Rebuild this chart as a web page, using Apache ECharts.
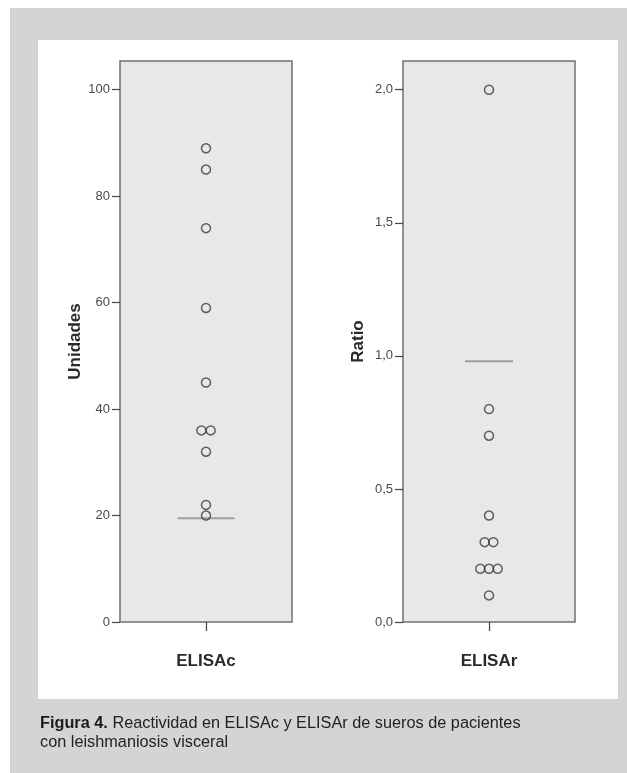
<!DOCTYPE html>
<html>
<head>
<meta charset="utf-8">
<script src="https://cdn.jsdelivr.net/npm/echarts@6/dist/echarts.min.js"></script>
<style>
  html, body { margin: 0; padding: 0; background: #ffffff; }
  #frame { position: absolute; left: 10px; top: 8px; width: 617px; height: 765px; background: #d3d4d6; }
  #panel { position: absolute; left: 38px; top: 40px; width: 580px; height: 659px; background: #ffffff; }
  #chart { position: absolute; left: 0; top: 0; width: 627px; height: 773px; }
</style>
</head>
<body>
<div id="frame"></div>
<div id="panel"></div>
<div id="chart"></div>
<script>
// ---- data ----
const categoriesLeft = ['ELISAc'];
const categoriesRight = ['ELISAr'];
const elisacValues = [89, 85, 74, 59, 45, 36, 36, 32, 22, 20];
const elisarValues = [2.0, 0.8, 0.7, 0.4, 0.3, 0.3, 0.2, 0.2, 0.2, 0.1];
const elisacLine = [19.5];
const elisarLine = [0.98];
const elisacTicks = [0, 20, 40, 60, 80, 100];
const elisarTicks = [0, 0.5, 1.0, 1.5, 2.0];
const leftAxisName = 'Unidades';
const rightAxisName = 'Ratio';
const captionBold = 'Figura 4.';
const captionLine1 = ' Reactividad en ELISAc y ELISAr de sueros de pacientes';
const captionLine2 = 'con leishmaniosis visceral';

// stack duplicate values side by side (dot-plot style)
function dotData(cat, values, step) {
  const counts = {}, seen = {};
  values.forEach(v => { counts[v] = (counts[v] || 0) + 1; });
  return values.map(v => {
    const i = seen[v] || 0; seen[v] = i + 1;
    const n = counts[v];
    return { value: [cat, v], symbolOffset: [(i - (n - 1) / 2) * step, 0] };
  });
}

const chart = echarts.init(document.getElementById('chart'), null, { renderer: 'canvas' });

const font = 'Liberation Sans, Arial, Helvetica, sans-serif';
const gridCommon = { top: 61, height: 561, width: 172, show: true, backgroundColor: '#e8e8ea', borderColor: '#707070', borderWidth: 1.5 };

function yAxisCfg(gridIndex, name, max, ticks, fmt) {
  return {
    gridIndex, type: 'value', min: 0, max: max,
    name: name, nameLocation: 'middle', nameGap: 36,
    nameTextStyle: { fontFamily: font, fontWeight: 'bold', fontSize: 17, color: '#2a2a2a' },
    axisLine: { show: false },
    splitLine: { show: false },
    axisTick: { show: true, length: 8, customValues: ticks, lineStyle: { color: '#444', width: 1.2 } },
    axisLabel: { show: true, margin: 10, customValues: ticks, formatter: fmt, fontFamily: font, fontSize: 13, color: '#4a4a4a' }
  };
}
function xAxisCfg(gridIndex, cats) {
  return {
    gridIndex, type: 'category', data: cats, boundaryGap: true,
    axisLine: { show: false },
    axisTick: { show: true, alignWithLabel: true, length: 9, lineStyle: { color: '#444', width: 1.2 } },
    axisLabel: { margin: 31, fontFamily: font, fontWeight: 'bold', fontSize: 17, color: '#2a2a2a' },
    splitLine: { show: false }
  };
}

const circleStyle = { color: 'rgba(0,0,0,0)', borderColor: '#3c3c3c', borderWidth: 1.5 };

chart.setOption({
  animation: false,
  title: {
    left: 40, top: 714, padding: 0,
    text: '{b|' + captionBold + '}{r|' + captionLine1 + '}\n{r|' + captionLine2 + '}',
    textStyle: {
      fontFamily: font, fontSize: 16.3, fontWeight: 'normal', color: '#222', lineHeight: 19,
      rich: {
        b: { fontFamily: font, fontSize: 16.3, fontWeight: 'bold', color: '#1a1a1a', lineHeight: 19 },
        r: { fontFamily: font, fontSize: 16.3, fontWeight: 'normal', color: '#222', lineHeight: 19 }
      }
    }
  },
  grid: [
    Object.assign({ left: 120 }, gridCommon),
    Object.assign({ left: 403 }, gridCommon)
  ],
  xAxis: [xAxisCfg(0, categoriesLeft), xAxisCfg(1, categoriesRight)],
  yAxis: [
    yAxisCfg(0, leftAxisName, 105.4, elisacTicks, v => String(Math.round(v))),
    yAxisCfg(1, rightAxisName, 2.108, elisarTicks, v => v.toFixed(1).replace('.', ','))
  ],
  series: [
    { type: 'scatter', xAxisIndex: 0, yAxisIndex: 0, symbol: 'rect', symbolSize: [57, 2], z: 1,
      itemStyle: { color: '#8c8c8c' }, data: elisacLine.map(v => [categoriesLeft[0], v]), silent: true },
    { type: 'scatter', xAxisIndex: 1, yAxisIndex: 1, symbol: 'rect', symbolSize: [48, 2], z: 1,
      itemStyle: { color: '#8c8c8c' }, data: elisarLine.map(v => [categoriesRight[0], v]), silent: true },
    { type: 'scatter', xAxisIndex: 0, yAxisIndex: 0, symbol: 'circle', symbolSize: 9, z: 2,
      itemStyle: circleStyle, data: dotData(categoriesLeft[0], elisacValues, 9.3) },
    { type: 'scatter', xAxisIndex: 1, yAxisIndex: 1, symbol: 'circle', symbolSize: 9, z: 2,
      itemStyle: circleStyle, data: dotData(categoriesRight[0], elisarValues, 8.7) }
  ]
});
</script>
</body>
</html>
